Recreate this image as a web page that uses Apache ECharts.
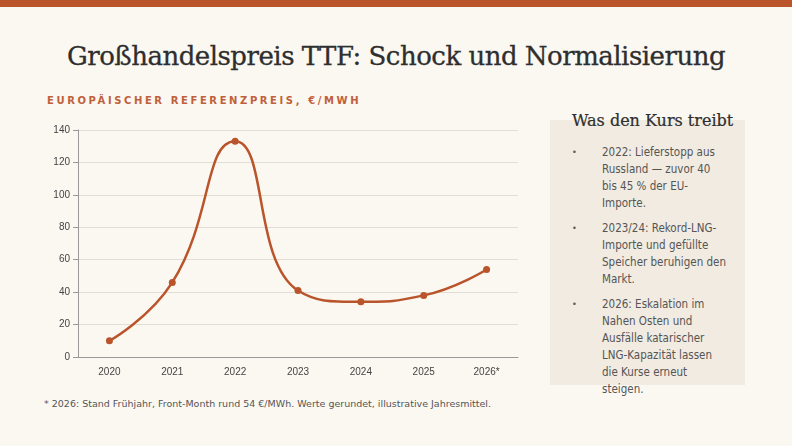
<!DOCTYPE html>
<html><head><meta charset="utf-8">
<script src="https://cdn.jsdelivr.net/npm/echarts@6/dist/echarts.min.js"></script>
<style>
body{margin:0;width:792px;height:446px;background:#fbf8f2;position:relative;overflow:hidden;font-family:"DejaVu Sans",sans-serif}
#bar{position:absolute;left:0;top:0;width:792px;height:7px;background:#b9542b}
#title{position:absolute;left:0;width:792px;top:41px;text-align:center;font-family:"DejaVu Serif",serif;font-size:26px;color:#2e2e2e;letter-spacing:-0.5px;-webkit-text-stroke:0.3px #2e2e2e}
#sub{position:absolute;left:47px;top:95px;font-size:10px;letter-spacing:2.6px;color:#c0603a;font-weight:bold}
#chart{position:absolute;left:0;top:110px;width:540px;height:280px}
#panel{position:absolute;left:550px;top:120px;width:195px;height:265px;background:#f1ebe1}
#ptitle{position:absolute;left:572px;top:111px;font-family:"DejaVu Serif",serif;font-size:16px;color:#2e2e2e;-webkit-text-stroke:0.2px #2e2e2e}
#list{position:absolute;left:572px;top:144px;width:154px;font-size:11.5px;line-height:17px;color:#555;font-family:"DejaVu Sans Condensed","DejaVu Sans",sans-serif}
.it{position:relative;padding-left:30px;margin-bottom:8px}
.it:before{content:"•";position:absolute;left:0;top:0;font-size:9px}
#foot{position:absolute;left:44px;top:398px;font-size:9.5px;color:#555}
</style></head><body>
<div id="bar"></div>
<div id="title">Großhandelspreis TTF: Schock und Normalisierung</div>
<div id="sub">EUROPÄISCHER REFERENZPREIS, €/MWH</div>
<div id="chart"></div>
<div id="panel"></div>
<div id="ptitle">Was den Kurs treibt</div>
<div id="list">
<div class="it">2022: Lieferstopp aus Russland — zuvor 40 bis 45 % der EU-Importe.</div>
<div class="it">2023/24: Rekord-LNG-Importe und gefüllte Speicher beruhigen den Markt.</div>
<div class="it">2026: Eskalation im Nahen Osten und Ausfälle katarischer LNG-Kapazität lassen die Kurse erneut steigen.</div>
</div>
<div id="foot">* 2026: Stand Frühjahr, Front-Month rund 54 €/MWh. Werte gerundet, illustrative Jahresmittel.</div>
<script>
const years=["2020","2021","2022","2023","2024","2025","2026*"];
const prices=[10,46,133,41,34,38,54];
const c=echarts.init(document.getElementById('chart'));
c.setOption({
 animation:false,
 grid:{left:78,right:22,top:20,bottom:33},
 xAxis:{type:'category',data:years,axisLine:{lineStyle:{color:'#999'}},axisTick:{lineStyle:{color:'#999'}},axisLabel:{color:'#444',fontSize:10,margin:10}},
 yAxis:{type:'value',min:0,max:140,interval:20,axisLine:{show:true,lineStyle:{color:'#999'}},axisTick:{show:true,lineStyle:{color:'#999'}},axisLabel:{color:'#444',fontSize:10},splitLine:{lineStyle:{color:'#e2ddd5'}}},
 series:[{type:'line',data:prices,smooth:0.5,symbol:'circle',symbolSize:7,lineStyle:{color:'#b9542b',width:2.5},itemStyle:{color:'#b9542b'}}]
});
</script></body></html>
